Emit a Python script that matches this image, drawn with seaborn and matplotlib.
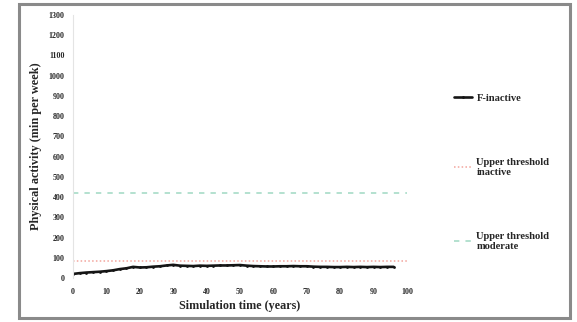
import numpy as np
import pandas as pd
import matplotlib
matplotlib.use("Agg")
import matplotlib.pyplot as plt
from matplotlib.patches import Rectangle
import seaborn as sns

# --- dados ---
years = [0, 2, 4, 6, 8, 10, 12, 14, 16, 18, 20, 22, 24, 26, 28, 30, 32, 34, 36, 38,
         40, 42, 44, 46, 48, 50, 52, 54, 56, 58, 60, 62, 64, 66, 68, 70, 72, 74, 76, 78,
         80, 82, 84, 86, 88, 90, 92, 94, 96]
f_inactive = [20, 24, 27, 29, 31, 34, 38, 44, 48, 55, 52, 53, 56, 58, 62, 65, 61, 60, 59, 61,
              60, 61, 62, 62, 63, 64, 61, 59, 58, 57, 57, 58, 58, 59, 58, 58, 56, 55, 55, 54,
              54, 55, 54, 55, 54, 55, 54, 55, 55]
threshold_years = [0, 100]
upper_inactive = [84, 84]
upper_moderate = [420, 420]

series_label = "F-inactive"
inactive_label = "Upper threshold\ninactive"
moderate_label = "Upper threshold\nmoderate"
x_ticks = list(range(0, 101, 10))
y_ticks = list(range(0, 1301, 100))

df_line = pd.DataFrame({"ano": years, "pa": f_inactive})
df_thr = pd.DataFrame({
    "ano": threshold_years * 2,
    "pa": upper_inactive + upper_moderate,
    "serie": [inactive_label] * 2 + [moderate_label] * 2,
})

sns.set_style("white")
plt.rcParams["font.family"] = ["Liberation Serif", "DejaVu Serif"]
plt.rcParams["font.weight"] = "bold"

fig = plt.figure(figsize=(5.77, 3.22), dpi=100)
ax = fig.add_axes([73 / 577, 1 - 278 / 322, (407 - 73) / 577, (278 - 15) / 322])

# moldura cinza em volta da figura
fig.patches.append(Rectangle((19 / 577, 1 - 318 / 322), (570 - 19) / 577, (318 - 4) / 322,
                             transform=fig.transFigure, fill=False,
                             edgecolor="#8a8a8a", linewidth=2.2))

sns.lineplot(data=df_line, x="ano", y="pa", color="#151515", linewidth=1.9,
             marker="o", markersize=2, markeredgewidth=0, label=series_label, ax=ax)
sns.lineplot(data=df_thr, x="ano", y="pa", hue="serie", style="serie",
             palette=["#f2a49c", "#9fd8c2"],
             dashes=[(1, 1.5), (3.5, 4)], linewidth=1.1, ax=ax)

ax.set_xlim(0, 100)
ax.set_ylim(0, 1300)
ax.set_xticks(x_ticks)
ax.set_yticks(y_ticks)
ax.tick_params(axis="both", length=0, labelsize=5.8)
ax.tick_params(axis="y", pad=6)
ax.tick_params(axis="x", pad=7)
for lab in ax.get_xticklabels() + ax.get_yticklabels():
    lab.set_fontweight("bold")

for s in ["top", "right", "bottom"]:
    ax.spines[s].set_visible(False)
ax.spines["left"].set_color("#e4e4e4")
ax.spines["left"].set_linewidth(0.8)

ax.set_xlabel("Simulation time (years)", fontsize=8.7, fontweight="bold", labelpad=3)
ax.set_ylabel("Physical activity (min per week)", fontsize=8.8, fontweight="bold", labelpad=5)

ax.legend(loc="upper left", bbox_to_anchor=(449 / 577, 1 - 88 / 322),
          bbox_transform=fig.transFigure, frameon=False, fontsize=7.6,
          labelspacing=5.2, handlelength=1.7, handletextpad=0.4, borderpad=0)

plt.savefig("out.png", dpi=100)
plt.close()
